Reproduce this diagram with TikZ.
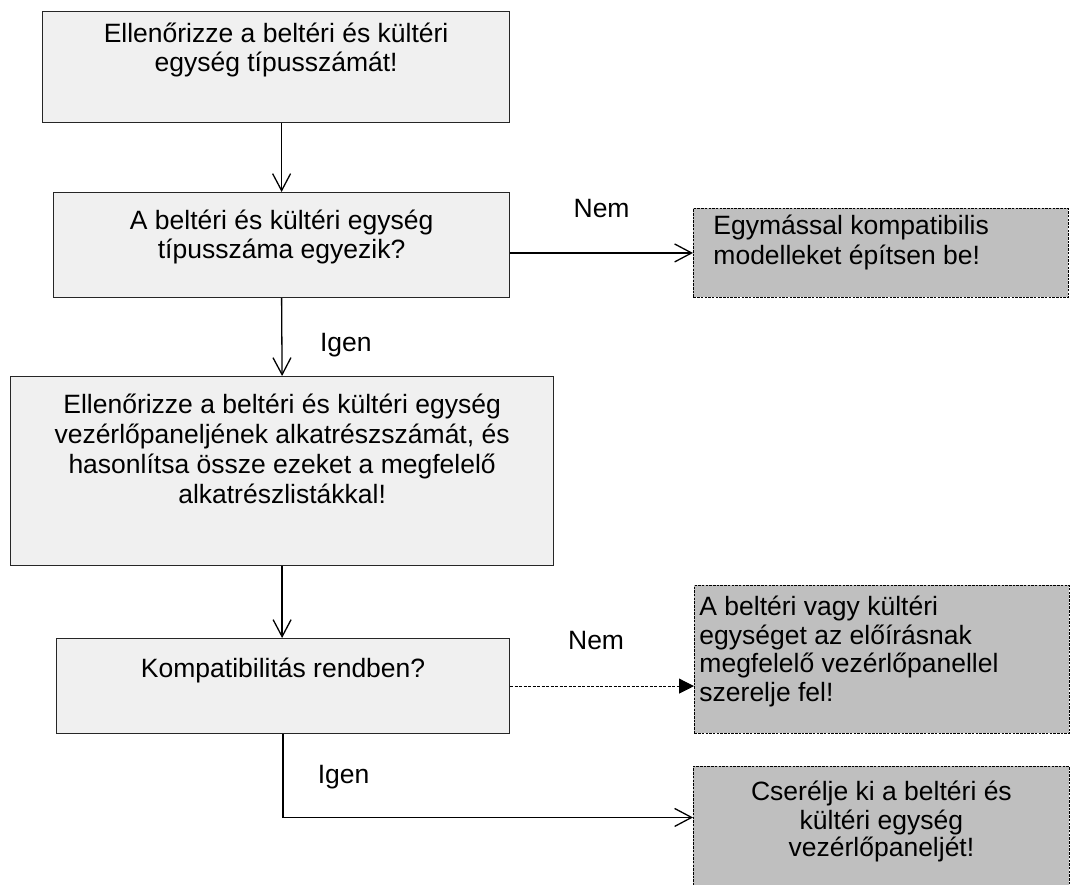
\documentclass[tikz,border=0pt]{standalone}
\usepackage{fontspec}
\setmainfont{Liberation Sans}
\usetikzlibrary{arrows.meta,positioning}

\newcommand{\boxtxt}[6]{\parbox[b][#2][t]{#1}{\fontsize{26.5}{#4}\selectfont\vspace*{#3}#5\strut #6}}

\begin{document}
\begin{tikzpicture}[
    x=1pt, y=-1pt,
    every node/.style={inner sep=0pt, font=\fontsize{26.5}{28.5}\selectfont},
    stepbox/.style={draw=black!85, fill=black!6, line width=1.2pt, anchor=north west},
    endbox/.style={draw=black, fill=black!25, line width=.9pt, dash pattern=on 2.5pt off 1.2pt, anchor=north west},
    flow/.style={line width=1.3pt, -{Straight Barb[length=17pt,width=18pt]}},
    alt/.style={line width=1pt, dash pattern=on 3pt off 1.5pt, -{Triangle[length=15pt,width=15pt]}}
]
    \useasboundingbox (0,0) rectangle (1072,885);
    \clip (0,0) rectangle (1072,885);

    \node[stepbox] (chk) at (42,11) {\boxtxt{467pt}{111pt}{11.5pt}{27pt}{\centering}{Ellenőrizze a beltéri és kültéri\\ egység típusszámát!}};
    \node[stepbox] (typ) at (53,192) {\boxtxt{456pt}{105pt}{17.5pt}{27pt}{\centering}{A beltéri és kültéri egység\\ típusszáma egyezik?}};
    \node[endbox] (inc) at (693,208) {\boxtxt{375pt}{89pt}{5.5pt}{30pt}{\raggedright\leftskip=20pt}{Egymással kompatibilis\\ modelleket építsen be!}};
    \node[stepbox] (pcb) at (10,376) {\boxtxt{543pt}{189pt}{15.7pt}{30pt}{\centering}{Ellenőrizze a beltéri és kültéri egység\\ vezérlőpaneljének alkatrészszámát, és\\ hasonlítsa össze ezeket a megfelelő\\ alkatrészlistákkal!}};
    \node[stepbox] (ok) at (56,638) {\boxtxt{453pt}{95pt}{18.5pt}{28.5pt}{\centering}{Kompatibilitás rendben?}};
    \node[endbox] (fix) at (694,585) {\boxtxt{375pt}{148pt}{10.5pt}{28.5pt}{\raggedright\leftskip=5pt}{A beltéri vagy kültéri\\ egységet az előírásnak\\ megfelelő vezérlőpanellel\\ szerelje fel!}};
    \node[endbox] (swap) at (693,766) {\boxtxt{376pt}{134pt}{14.5pt}{27.5pt}{\centering}{Cserélje ki a beltéri és\\ kültéri egység\\ vezérlőpaneljét!}};

    \draw[flow] (chk.south -| typ.north) -- (typ.north);
    \draw[flow] (inc.west -| typ.east) -- (inc.west) node[midway, above=35pt] (nem1) {Nem};
    \draw[flow] (typ.south) -- (pcb.north) node[pos=.6, right=37.5pt] (igen1) {Igen};
    \draw[flow] (pcb.south) -- (pcb.south |- ok.north);
    \draw[alt] (ok.east) -- (ok.east -| fix.west) node[midway, above=35.5pt, xshift=-6pt] (nem2) {Nem};
    \draw[flow] (ok.south) |- ([yshift=16pt]swap.west) node[pos=.26, right=34pt] (igen2) {Igen};

\end{tikzpicture}
\end{document}
